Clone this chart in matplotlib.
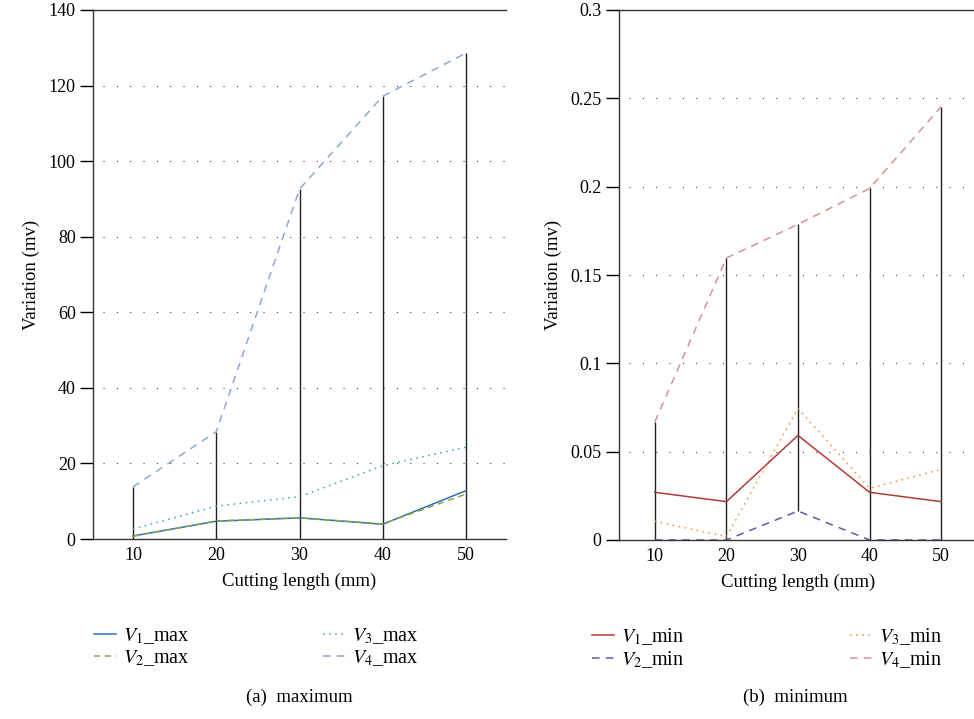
import numpy as np
import matplotlib
matplotlib.use("Agg")
import matplotlib.pyplot as plt

plt.rcParams['font.family'] = ['Liberation Serif', 'DejaVu Serif']
plt.rcParams['mathtext.fontset'] = 'stix'

# cutting length (mm)
lengths = [10, 20, 30, 40, 50]

# maximum variation (mv)
v1_max = [0.8, 4.7, 5.6, 3.9, 12.8]
v2_max = [0.7, 4.8, 5.6, 4.0, 11.9]
v3_max = [2.6, 8.7, 11.2, 19.4, 24.3]
v4_max = [13.8, 28.4, 92.6, 117.2, 128.6]

# minimum variation (mv)
v1_min = [0.027, 0.0217, 0.0592, 0.027, 0.0217]
v2_min = [0.0, 0.0, 0.0164, 0.0, 0.0]
v3_min = [0.0106, 0.0019, 0.0745, 0.0292, 0.040]
v4_min = [0.0668, 0.1596, 0.1787, 0.199, 0.2453]

max_yticks = [0, 20, 40, 60, 80, 100, 120, 140]
min_yticks = [0, 0.05, 0.1, 0.15, 0.2, 0.25, 0.3]
min_ylabels = ['0', '0.05', '0.1', '0.15', '0.2', '0.25', '0.3']

max_styles = [('#2f6db5', '-', r'$V_1$_max'),
              ('#8cab3f', (0, (4, 3)), r'$V_2$_max'),
              ('#3aa3c4', (0, (1, 3)), r'$V_3$_max'),
              ('#8ea8d8', (0, (5, 4)), r'$V_4$_max')]
min_styles = [('#b23a35', '-', r'$V_1$_min'),
              ('#6a55a3', (0, (5, 4)), r'$V_2$_min'),
              ('#f28d3a', (0, (1, 3)), r'$V_3$_min'),
              ('#d99293', (0, (5, 4)), r'$V_4$_min')]

fig = plt.figure(figsize=(9.74, 7.19), dpi=100)
W, H = 974.0, 719.0

ax1 = fig.add_axes([93 / W, 1 - 539 / H, 413 / W, 529 / H])
ax2 = fig.add_axes([619 / W, 1 - 540 / H, 358 / W, 530 / H])


def style_axes(ax, yticks, ylabels, ylim, xlim):
    ax.set_xlim(*xlim)
    ax.set_ylim(*ylim)
    ax.set_xticks(lengths)
    ax.set_yticks(yticks)
    ax.set_yticklabels(ylabels)
    ax.tick_params(axis='x', length=0, pad=6, labelsize=13)
    ax.tick_params(axis='y', length=9.5, width=1, direction='out',
                   labelsize=13, pad=3)
    ax.spines['right'].set_visible(False)
    for s in ['left', 'bottom', 'top']:
        ax.spines[s].set_linewidth(1.0)
        ax.spines[s].set_color('#333333')
    for y in yticks[1:-1]:
        ax.axhline(y, color='#444444', lw=0.8, ls=(3, (1, 11)), zorder=0)
    ax.set_xlabel('Cutting length (mm)', fontsize=13.5, labelpad=6)
    ax.set_ylabel('Variation (mv)', fontsize=13.5, labelpad=6)


def add_legend(handles, labels, x0, spacing):
    fig.legend(handles, labels, ncol=2, frameon=False, loc='upper left',
               bbox_to_anchor=(x0 / W, 1 - 626 / H), fontsize=14.5,
               borderpad=0, borderaxespad=0,
               handlelength=1.1, handletextpad=0.35, columnspacing=spacing,
               labelspacing=0.1)


# left panel: maximum
style_axes(ax1, max_yticks, [str(t) for t in max_yticks], (0, 140), (5.2, 54.8))
ax1.vlines(lengths, 0, v4_max, color='#222222', lw=1.0, zorder=1)
for vals, (c, ls, lab) in zip([v1_max, v2_max, v3_max, v4_max], max_styles):
    ax1.plot(lengths, vals, color=c, ls=ls, lw=1.1, label=lab, zorder=2)

# right panel: minimum
style_axes(ax2, min_yticks, min_ylabels, (0, 0.3), (5, 55))
lows = np.min([v1_min, v2_min, v3_min, v4_min], axis=0)
ax2.vlines(lengths, lows, v4_min, color='#222222', lw=1.0, zorder=1)
for vals, (c, ls, lab) in zip([v1_min, v2_min, v3_min, v4_min], min_styles):
    ax2.plot(lengths, vals, color=c, ls=ls, lw=1.1, label=lab, zorder=2)

# legends below each panel
h1, l1 = ax1.get_legend_handles_labels()
h2, l2 = ax2.get_legend_handles_labels()
add_legend(h1, l1, 94, 6.6)
add_legend(h2, l2, 592, 8.2)

fig.text(299 / W, 1 - 697 / H, '(a)  maximum', ha='center', va='center', fontsize=13.5)
fig.text(795 / W, 1 - 697 / H, '(b)  minimum', ha='center', va='center', fontsize=13.5)

fig.savefig('out.png', dpi=100)
